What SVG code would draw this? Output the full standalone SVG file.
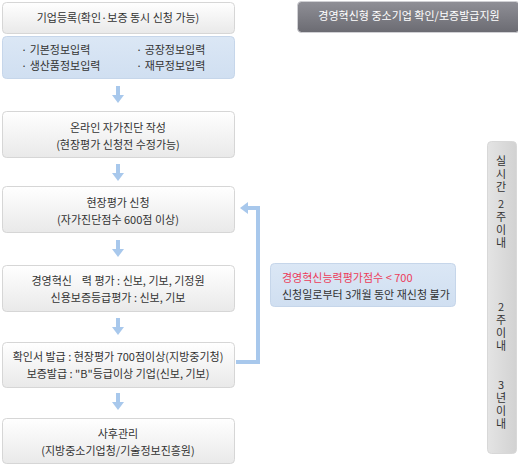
<svg xmlns="http://www.w3.org/2000/svg" width="518" height="467" viewBox="0 0 518 467">
<style>
text{font-family:"Noto Sans CJK KR","Noto Sans",sans-serif;font-size:11px;fill:#333;}
.c{text-anchor:middle;}
.box{fill:url(#gw);stroke:#d6d6d6;stroke-width:1;}
.blue{fill:url(#gb);stroke:#c6d6ea;stroke-width:1;}
.arr{stroke:#a8c8ec;stroke-width:4;fill:none;}
.w{fill:#fff;}
.red{fill:#ec3c5a;}
.v{writing-mode:vertical-rl;text-orientation:upright;letter-spacing:2px;}
</style>
<defs>
<linearGradient id="gw" x1="0" y1="0" x2="0" y2="1"><stop offset="0" stop-color="#ffffff"/><stop offset="1" stop-color="#e9e9e9"/></linearGradient>
<linearGradient id="gb" x1="0" y1="0" x2="0" y2="1"><stop offset="0" stop-color="#dbe7f5"/><stop offset="1" stop-color="#d0dff1"/></linearGradient>
<linearGradient id="gd" x1="0" y1="0" x2="0" y2="1"><stop offset="0" stop-color="#8f8f96"/><stop offset="1" stop-color="#6b6b72"/></linearGradient>
<linearGradient id="gs" x1="0" y1="0" x2="1" y2="0"><stop offset="0" stop-color="#e4e4e4"/><stop offset="1" stop-color="#d2d2d2"/></linearGradient>
<marker id="ah" markerUnits="userSpaceOnUse" markerWidth="12" markerHeight="12" viewBox="0 0 12 12" refX="4" refY="6" orient="auto">
<path d="M0,0 L8,6 L0,12 Z" fill="#a8c8ec"/>
</marker>
</defs>

<g id="header">
<rect x="297.5" y="1.5" width="222" height="31" rx="4" fill="url(#gd)" stroke="#d0d0d4"/>
<text class="c w" x="409" y="20">경영혁신형 중소기업 확인/보증발급지원</text>
</g>

<g id="node-register">
<rect class="box" x="2.5" y="2.5" width="232" height="31" rx="4"/>
<text class="c" x="118" y="22">기업등록(확인·보증 동시 신청 가능)</text>
</g>

<g id="node-info">
<rect class="blue" x="2.5" y="36.5" width="232" height="42" rx="4"/>
<text x="21" y="54">· 기본정보입력</text>
<text x="136" y="54">· 공장정보입력</text>
<text x="21" y="70">· 생산품정보입력</text>
<text x="136" y="70">· 재무정보입력</text>
</g>

<g id="node-selfcheck">
<rect class="box" x="2.5" y="111.5" width="232" height="46" rx="4"/>
<text class="c" x="118" y="132">온라인 자가진단 작성</text>
<text class="c" x="118" y="149">(현장평가 신청전 수정가능)</text>
</g>

<g id="node-apply">
<rect class="box" x="2.5" y="186.5" width="232" height="46" rx="4"/>
<text class="c" x="118" y="207">현장평가 신청</text>
<text class="c" x="118" y="224">(자가진단점수 600점 이상)</text>
</g>

<g id="node-eval">
<rect class="box" x="2.5" y="265.5" width="232" height="46" rx="4"/>
<text class="c" x="118" y="285" xml:space="preserve" style="white-space:pre">경영혁신    력 평가 : 신보, 기보, 기정원</text>
<text class="c" x="118" y="302">신용보증등급평가 : 신보, 기보</text>
</g>

<g id="node-issue">
<rect class="box" x="2.5" y="342.5" width="232" height="45" rx="4"/>
<text class="c" x="118" y="361">확인서 발급 : 현장평가 700점이상(지방중기청)</text>
<text class="c" x="118" y="378">보증발급 : "B"등급이상 기업(신보, 기보)</text>
</g>

<g id="node-after">
<rect class="box" x="2.5" y="418.5" width="232" height="45" rx="4"/>
<text class="c" x="118" y="438">사후관리</text>
<text class="c" x="118" y="455">(지방중소기업청/기술정보진흥원)</text>
</g>

<g id="node-note">
<rect class="blue" x="270.5" y="263.5" width="185" height="43" rx="4"/>
<text class="red" x="282" y="282">경영혁신능력평가점수 &lt; 700</text>
<text x="282" y="299">신청일로부터 3개월 동안 재신청 불가</text>
</g>

<g id="node-timeline">
<rect x="487.5" y="141.5" width="29" height="312" rx="4" fill="url(#gs)" stroke="#d8d8d8"/>
<text class="v" x="501" y="155">실시간</text>
<text class="v" x="501" y="198">2주이내</text>
<text class="v" x="501" y="301">2주이내</text>
<text class="v" x="501" y="379">3년이내</text>
</g>

<g id="connectors">
<line class="arr" x1="118" y1="86" x2="118" y2="99" marker-end="url(#ah)"/>
<line class="arr" x1="118" y1="164" x2="118" y2="177" marker-end="url(#ah)"/>
<line class="arr" x1="118" y1="240" x2="118" y2="253" marker-end="url(#ah)"/>
<line class="arr" x1="118" y1="318" x2="118" y2="331" marker-end="url(#ah)"/>
<line class="arr" x1="118" y1="393" x2="118" y2="406" marker-end="url(#ah)"/>
<polyline class="arr" points="236,362 258,362 258,208 244,208" marker-end="url(#ah)"/>
</g>
</svg>
